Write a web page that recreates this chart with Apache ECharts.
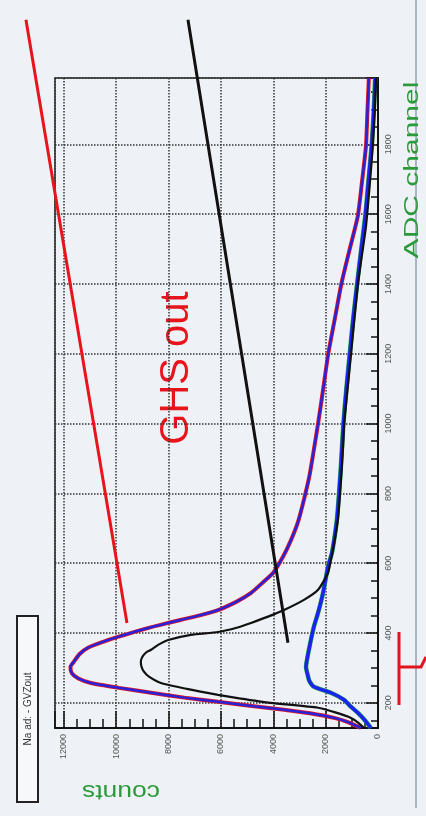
<!DOCTYPE html>
<html>
<head>
<meta charset="utf-8">
<script src="https://cdn.jsdelivr.net/npm/echarts@6/dist/echarts.min.js"></script>
<style>
  html, body { margin: 0; padding: 0; background: #eef2f6; }
  #chart { width: 426px; height: 816px; }
</style>
</head>
<body>
<div id="chart"></div>
<script>
// GHS out spectrum (red + blue overlay)
var ghsAdc = [128, 145, 157, 170, 180, 192, 203, 215, 229, 243, 257, 270, 285, 303, 320, 340, 358, 375, 389, 410, 429, 447, 466, 490, 515, 545, 572, 620, 667, 720, 782, 850, 925, 1000, 1070, 1200, 1300, 1400, 1500, 1595, 1700, 1795, 1900, 1990]
var ghsCounts = [650, 1150, 1680, 2600, 3590, 4900, 6110, 7400, 8670, 9900, 10970, 11450, 11700, 11750, 11600, 11400, 11080, 10500, 9940, 9000, 8020, 7000, 6110, 5400, 4850, 4400, 4010, 3620, 3320, 3050, 2830, 2620, 2450, 2290, 2150, 1900, 1650, 1400, 1080, 770, 600, 460, 400, 350]

// black spectrum
var blackAdc = [128, 143, 157, 172, 186, 200, 213, 223, 240, 257, 275, 290, 305, 318, 332, 345, 352, 366, 380, 395, 403, 415, 429, 447, 466, 495, 524, 572, 610, 647, 690, 733, 800, 876, 940, 1002, 1100, 1200, 1300, 1400, 1480, 1564, 1680, 1805, 1900, 1990]
var blackCounts = [535, 750, 1030, 1600, 2290, 4100, 5300, 6110, 7300, 8290, 8750, 8950, 9040, 9060, 9000, 8850, 8670, 8400, 8020, 7150, 6110, 5400, 4850, 4200, 3590, 2830, 2290, 1910, 1800, 1700, 1600, 1520, 1450, 1380, 1330, 1290, 1160, 1030, 900, 765, 620, 460, 320, 190, 120, 75]

// low spectrum (blue + green)
var lowAdc = [128, 150, 171, 190, 209, 229, 246, 262, 275, 303, 352, 418, 458, 515, 590, 630, 680, 733, 800, 876, 1002, 1100, 1200, 1300, 1400, 1500, 1600, 1700, 1800, 1900, 1990]
var lowCounts = [270, 500, 765, 1050, 1300, 1800, 2450, 2620, 2670, 2750, 2640, 2450, 2290, 2100, 1910, 1760, 1650, 1560, 1490, 1420, 1320, 1210, 1080, 950, 800, 640, 480, 360, 240, 160, 110]

// straight annotation lines (run past the plot frame)
var redLineAdc = [429, 1000, 2157]
var redLineCounts = [9590, 10865, 13450]
var blackLineAdc = [372, 1200, 2157]
var blackLineCounts = [3440, 5212, 7260]

function pairs (adc, counts) {
  return adc.map(function (a, i) { return [counts[i], a] })
}

var chart = echarts.init(document.getElementById('chart'))

var tickLine = {color: '#111', width: 1.5}
var labelStyle = {rotate: 90, fontSize: 9, color: '#555', fontFamily: 'Liberation Sans'}

// second, hidden grid with the same scale but stretched to the page edges,
// so the annotation lines can leave the plot frame
var pxPerCount = 323 / 12340
var adcPerPx = 1862 / 650

var option = {
  backgroundColor: '#eef2f6',
  animation: false,
  grid: [
    {left: 55, right: 48, top: 78, bottom: 88, show: true, borderColor: '#222', borderWidth: 1.5},
    {left: 0, right: 48, top: 0, bottom: 88}
  ],
  xAxis: [{
    type: 'value',
    inverse: true,
    min: 0,
    max: 12340,
    interval: 2000,
    axisLine: {show: true, onZero: false, lineStyle: {color: '#111', width: 2}},
    axisTick: {show: true, inside: true, length: 17, lineStyle: tickLine},
    minorTick: {show: true, splitNumber: 4, length: 9, lineStyle: tickLine},
    splitLine: {show: true, lineStyle: {type: 'dotted', color: '#333', width: 1.5}},
    axisLabel: Object.assign({margin: 6, showMaxLabel: false, formatter: function (v) { return String(v) }}, labelStyle)
  }, {
    gridIndex: 1, type: 'value', inverse: true, min: 0, max: 378 / pxPerCount, show: false
  }],
  yAxis: [{
    type: 'value',
    position: 'right',
    min: 128,
    max: 1990,
    splitNumber: 9,
    axisLine: {show: true, onZero: false, lineStyle: {color: '#111', width: 2}},
    axisTick: {show: true, inside: true, length: 12, lineStyle: tickLine},
    minorTick: {show: true, splitNumber: 4, length: 7, lineStyle: tickLine},
    splitLine: {show: true, lineStyle: {type: 'dotted', color: '#333', width: 1.5}},
    axisLabel: Object.assign({margin: 6, showMinLabel: false, showMaxLabel: false, formatter: function (v) { return String(v) }}, labelStyle)
  }, {
    gridIndex: 1, type: 'value', min: 128, max: 1990 + 78 * adcPerPx, show: false
  }],
  series: [
    {type: 'line', data: pairs(ghsAdc, ghsCounts), showSymbol: false, smooth: 0.2, lineStyle: {color: '#e5161d', width: 4}},
    {type: 'line', data: pairs(ghsAdc, ghsCounts), showSymbol: false, smooth: 0.2, lineStyle: {color: '#2a22d8', width: 2.5}},
    {type: 'line', data: pairs(lowAdc, lowCounts), showSymbol: false, smooth: 0.2, lineStyle: {color: '#2bb24c', width: 4.5}},
    {type: 'line', data: pairs(lowAdc, lowCounts), showSymbol: false, smooth: 0.2, lineStyle: {color: '#1c22f0', width: 3.5}},
    {type: 'line', data: pairs(blackAdc, blackCounts), showSymbol: false, smooth: 0.2, lineStyle: {color: '#111', width: 2.2}},
    {type: 'line', xAxisIndex: 1, yAxisIndex: 1, data: pairs(redLineAdc, redLineCounts), showSymbol: false, clip: false, lineStyle: {color: '#e8141c', width: 3}},
    {type: 'line', xAxisIndex: 1, yAxisIndex: 1, data: pairs(blackLineAdc, blackLineCounts), showSymbol: false, clip: false, lineStyle: {color: '#111', width: 3}}
  ],
  graphic: [
    {type: 'line', shape: {x1: 416, y1: 0, x2: 416, y2: 808}, style: {stroke: '#a9b5c6', lineWidth: 2}, z: 0},
    {type: 'polyline', shape: {points: [[399, 632], [399, 705]]}, style: {stroke: '#e0141c', lineWidth: 3, fill: null}},
    {type: 'polyline', shape: {points: [[399, 667], [421, 667], [426, 657]]}, style: {stroke: '#e0141c', lineWidth: 3, fill: null}},
    {type: 'text', x: 412, y: 170, rotation: Math.PI / 2, scaleX: 1.5,
      style: {text: 'ADC channel', fill: '#2c9a3c', font: '20px "Liberation Sans"', align: 'center', verticalAlign: 'middle'}},
    {type: 'text', x: 121, y: 791, rotation: Math.PI, scaleX: 1.2,
      style: {text: 'counts', fill: '#2c9a3c', font: '22px "Liberation Sans"', align: 'center', verticalAlign: 'middle'}},
    {type: 'text', x: 177, y: 368, rotation: Math.PI / 2,
      style: {text: 'GHS out', fill: '#e8141c', font: '40px "Liberation Sans"', align: 'center', verticalAlign: 'middle'}},
    {type: 'rect', shape: {x: 17, y: 616, width: 21, height: 186}, style: {stroke: '#222', lineWidth: 2, fill: '#f7f8fa'}},
    {type: 'text', x: 28, y: 709, rotation: Math.PI / 2,
      style: {text: 'Na ad: - GVZout', fill: '#333', font: '10px "Liberation Sans"', align: 'center', verticalAlign: 'middle'}}
  ]
}

chart.setOption(option)
</script>
</body>
</html>
